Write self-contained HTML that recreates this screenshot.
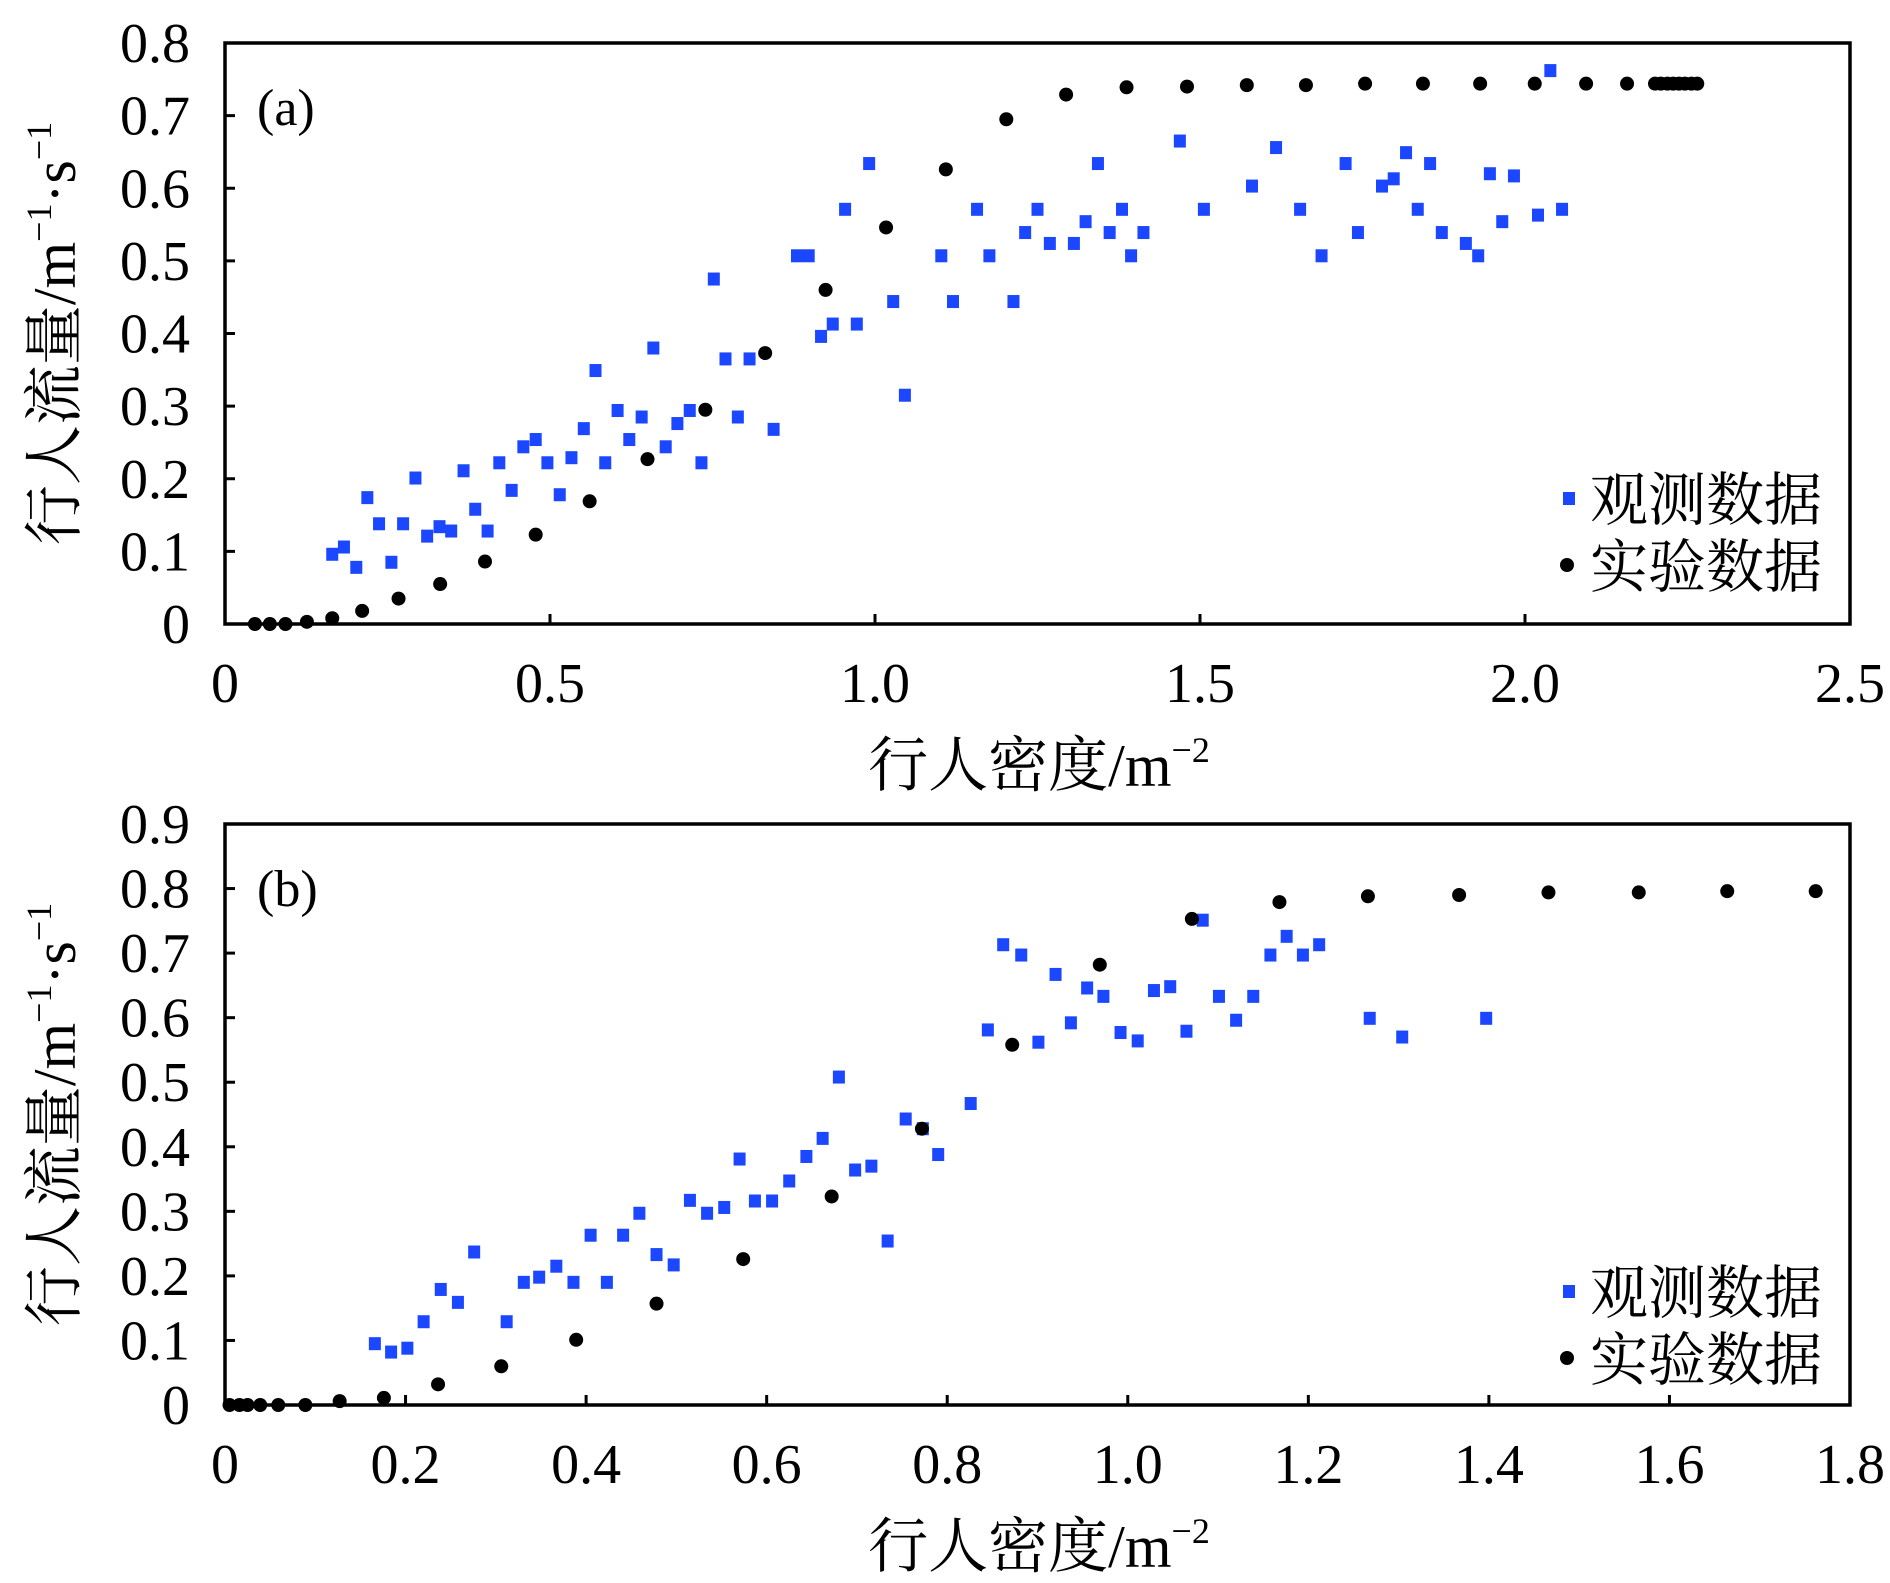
<!DOCTYPE html>
<html><head><meta charset="utf-8"><style>
html,body{margin:0;padding:0;background:#fff;}
svg{display:block;}
text{font-family:"Liberation Serif","Noto Serif CJK SC",serif;fill:#000;}
</style></head><body>
<svg id="chart" width="1890" height="1583" viewBox="0 0 1890 1583" xmlns="http://www.w3.org/2000/svg"></svg>
<script>
// ---- Panel (a) data ----
const aObsX = [0.165,0.183,0.202,0.219,0.237,0.256,0.274,0.293,0.311,0.330,0.348,0.367,0.385,0.404,0.422,0.441,0.459,0.478,0.496,0.515,0.533,0.552,0.570,0.585,0.604,0.622,0.641,0.659,0.678,0.696,0.715,0.733,0.752,0.770,0.789,0.807,0.844,0.880,0.898,0.917,0.935,0.954,0.972,0.991,1.028,1.046,1.102,1.120,1.157,1.176,1.213,1.231,1.250,1.269,1.306,1.324,1.343,1.361,1.380,1.394,1.413,1.469,1.506,1.580,1.617,1.654,1.687,1.724,1.743,1.780,1.798,1.817,1.835,1.854,1.872,1.909,1.928,1.946,1.965,1.983,2.020,2.039,2.057];
const aObsY = [0.096,0.106,0.078,0.174,0.138,0.085,0.138,0.201,0.121,0.134,0.128,0.211,0.158,0.128,0.222,0.184,0.244,0.254,0.222,0.178,0.229,0.269,0.349,0.222,0.294,0.254,0.285,0.380,0.244,0.276,0.294,0.222,0.475,0.365,0.285,0.365,0.268,0.507,0.507,0.396,0.413,0.571,0.413,0.634,0.444,0.315,0.507,0.444,0.571,0.507,0.444,0.539,0.571,0.524,0.524,0.554,0.634,0.539,0.571,0.507,0.539,0.665,0.571,0.603,0.656,0.571,0.507,0.634,0.539,0.603,0.613,0.649,0.571,0.634,0.539,0.524,0.507,0.620,0.554,0.617,0.563,0.762,0.571];
const aExpX = [0.046,0.069,0.093,0.126,0.165,0.211,0.267,0.331,0.400,0.478,0.561,0.650,0.739,0.831,0.924,1.017,1.109,1.202,1.294,1.387,1.480,1.572,1.663,1.754,1.843,1.931,2.015,2.094,2.157,2.200,2.209,2.219,2.228,2.237,2.246,2.256,2.265];
const aExpY = [0,0,0,0.003,0.008,0.018,0.035,0.055,0.086,0.123,0.169,0.227,0.295,0.373,0.460,0.546,0.626,0.695,0.729,0.739,0.740,0.742,0.742,0.744,0.744,0.744,0.744,0.744,0.744,0.744,0.744,0.744,0.744,0.744,0.744,0.744,0.744];
const aXTicks = [0,0.5,1.0,1.5,2.0,2.5];
const aXTickLabels = ["0","0.5","1.0","1.5","2.0","2.5"];
const aYTicks = [0,0.1,0.2,0.3,0.4,0.5,0.6,0.7,0.8];
const aYTickLabels = ["0","0.1","0.2","0.3","0.4","0.5","0.6","0.7","0.8"];

// ---- Panel (b) data ----
const bObsX = [0.166,0.184,0.202,0.220,0.239,0.258,0.276,0.312,0.331,0.348,0.367,0.386,0.405,0.423,0.441,0.459,0.478,0.497,0.515,0.534,0.553,0.570,0.587,0.606,0.625,0.644,0.662,0.680,0.698,0.716,0.734,0.754,0.773,0.790,0.826,0.845,0.862,0.882,0.901,0.920,0.937,0.955,0.973,0.992,1.011,1.029,1.047,1.065,1.083,1.101,1.120,1.139,1.158,1.176,1.194,1.212,1.268,1.304,1.397];
const bObsY = [0.095,0.082,0.088,0.129,0.179,0.159,0.237,0.129,0.190,0.198,0.215,0.190,0.263,0.190,0.263,0.297,0.233,0.217,0.317,0.297,0.306,0.381,0.316,0.316,0.347,0.385,0.413,0.508,0.364,0.370,0.254,0.443,0.428,0.388,0.467,0.581,0.713,0.697,0.562,0.667,0.592,0.646,0.633,0.577,0.564,0.642,0.648,0.579,0.751,0.633,0.596,0.633,0.697,0.726,0.697,0.713,0.599,0.570,0.599];
const bExpX = [0.005,0.016,0.025,0.039,0.059,0.089,0.127,0.176,0.236,0.306,0.389,0.478,0.574,0.672,0.772,0.872,0.969,1.071,1.168,1.266,1.367,1.466,1.566,1.664,1.762];
const bExpY = [0,0,0,0,0,0,0.006,0.011,0.032,0.060,0.101,0.157,0.226,0.323,0.428,0.558,0.682,0.753,0.779,0.788,0.790,0.794,0.794,0.796,0.796];
const bXTicks = [0,0.2,0.4,0.6,0.8,1.0,1.2,1.4,1.6,1.8];
const bXTickLabels = ["0","0.2","0.4","0.6","0.8","1.0","1.2","1.4","1.6","1.8"];
const bYTicks = [0,0.1,0.2,0.3,0.4,0.5,0.6,0.7,0.8,0.9];
const bYTickLabels = ["0","0.1","0.2","0.3","0.4","0.5","0.6","0.7","0.8","0.9"];

const NS = "http://www.w3.org/2000/svg";
const svg = document.getElementById('chart');
function mk(tag, attrs, parent){
  const e = document.createElementNS(NS, tag);
  for (const k in attrs) e.setAttribute(k, attrs[k]);
  (parent||svg).appendChild(e);
  return e;
}

function panel(cfg){
  const L=cfg.left,R=cfg.right,T=cfg.top,B=cfg.bottom;
  const sx = v => L + (v - 0) / (cfg.xMax) * (R - L);
  const sy = v => B - (v - 0) / (cfg.yMax) * (B - T);
  const g = mk('g', {});
  
  

  cfg.xTicks.forEach((t,i)=>{
    const x = sx(t);
    const tk = mk('line',{x1:x,x2:x,y1:B,y2:B-10,stroke:'#000','stroke-width':3},g);
    
    
    const lb = mk('text',{x:x,y:B+78,'text-anchor':'middle','font-size':56},g);
    
    
    lb.textContent = cfg.xTickLabels[i];
  });
  cfg.yTicks.forEach((t,i)=>{
    const y = sy(t);
    const tk = mk('line',{x1:L,x2:L+10,y1:y,y2:y,stroke:'#000','stroke-width':3},g);
    
    
    const lb = mk('text',{x:190,y:y+19,'text-anchor':'end','font-size':56},g);
    
    
    lb.textContent = cfg.yTickLabels[i];
  });

  cfg.obsX.forEach((xv,i)=>{
    const r = mk('rect',{x:sx(xv)-6,y:sy(cfg.obsY[i])-6.5,width:12,height:13,fill:'#1a47ff'},g);
    
    
  });
  cfg.expX.forEach((xv,i)=>{
    const c = mk('circle',{cx:sx(xv),cy:sy(cfg.expY[i]),r:7,fill:'#000'},g);
    
    
  });

  const fr = mk('rect',{x:L,y:T,width:R-L,height:B-T,fill:'none',stroke:'#000','stroke-width':3.5},g);
  
  

  const pl = mk('text',{x:257,y:T+82,'font-size':52},g);
  
  
  pl.textContent = cfg.label;

  const ls = mk('rect',{x:1563,y:cfg.legY-6,width:12,height:13,fill:'#1a47ff'},g);
  
  
  const lt1 = mk('text',{x:1590,y:cfg.legY+22,'font-size':58},g);
  
  
  lt1.textContent = '观测数据';
  const lc = mk('circle',{cx:1567,cy:cfg.legY+67,r:7,fill:'#000'},g);
  
  
  const lt2 = mk('text',{x:1590,y:cfg.legY+89,'font-size':58},g);
  
  
  lt2.textContent = '实验数据';

  const xt = mk('text',{x:1039,y:B+162,'text-anchor':'middle','font-size':60},g);
  
  
  xt.innerHTML = '行人密度/m<tspan dy="-24" font-size="36">−2</tspan>';

  const yc = (T+B)/2;
  const yt = mk('text',{x:0,y:0,'text-anchor':'middle','font-size':60,transform:`translate(75,${yc}) rotate(-90)`},g);
  
  
  yt.innerHTML = '行人流量/m<tspan dy="-24" font-size="36">−1</tspan><tspan dy="24">·s</tspan><tspan dy="-24" font-size="36">−1</tspan>';
}

panel({id:'a',left:225,right:1850,top:43,bottom:624,xMax:2.5,yMax:0.8,
  xTicks:aXTicks,xTickLabels:aXTickLabels,yTicks:aYTicks,yTickLabels:aYTickLabels,
  obsX:aObsX,obsY:aObsY,expX:aExpX,expY:aExpY,label:'(a)',legY:498});
panel({id:'b',left:225,right:1850,top:824,bottom:1405,xMax:1.8,yMax:0.9,
  xTicks:bXTicks,xTickLabels:bXTickLabels,yTicks:bYTicks,yTickLabels:bYTickLabels,
  obsX:bObsX,obsY:bObsY,expX:bExpX,expY:bExpY,label:'(b)',legY:1291});
</script>
</body></html>
